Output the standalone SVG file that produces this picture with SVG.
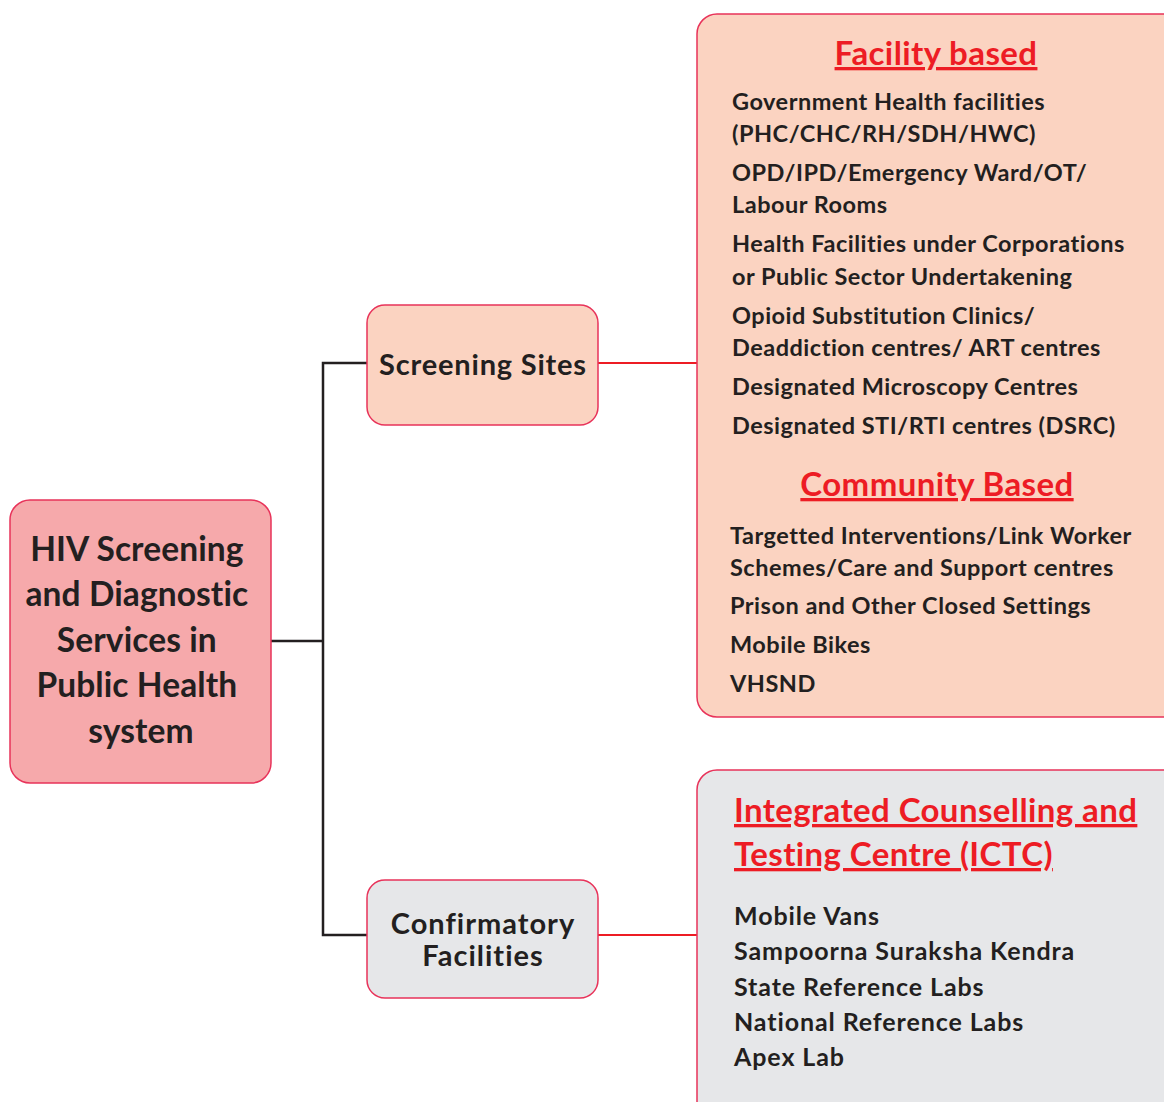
<svg xmlns="http://www.w3.org/2000/svg" width="1164" height="1102" viewBox="0 0 1164 1102">
<style>
.t{font-family:Lato,"Liberation Sans",sans-serif;font-weight:bold;fill:#231f20}
.h{font-family:Lato,"Liberation Sans",sans-serif;font-weight:bold;fill:#ed1c24;text-decoration:underline;font-size:33px;letter-spacing:0.4px}
.l1{font-size:23.5px;letter-spacing:0.5px}
.l2{font-size:25px;letter-spacing:0.9px}
.box{stroke:#e8335a;stroke-width:1.5}
</style>
<rect width="1164" height="1102" fill="#ffffff"/>
<g id="connectors" fill="none">
<polyline points="271,641 323,641" stroke="#231f20" stroke-width="2.5"/>
<polyline points="367,363 323,363 323,935 367,935" stroke="#231f20" stroke-width="2.5"/>
<line x1="598" y1="363" x2="697" y2="363" stroke="#ed1c24" stroke-width="2"/>
<line x1="598" y1="935" x2="697" y2="935" stroke="#ed1c24" stroke-width="2"/>
</g>
<g id="root">
<rect class="box" x="10" y="500" width="261" height="283" rx="20" fill="#f6a9ab"/>
<text class="t" font-size="33.5" letter-spacing="0.1" text-anchor="middle">
<tspan x="141" y="561">HIV Screening</tspan>
<tspan x="141" y="606">and Diagnostic</tspan>
<tspan x="141" y="652">Services in</tspan>
<tspan x="141" y="697">Public Health</tspan>
<tspan x="141" y="743">system</tspan>
</text>
</g>
<g id="screening">
<rect class="box" x="367" y="305" width="231" height="120" rx="18" fill="#fbd3c1"/>
<text class="t" font-size="29" letter-spacing="0.8" text-anchor="middle" x="483" y="375">Screening Sites</text>
</g>
<g id="confirmatory">
<rect class="box" x="367" y="880" width="231" height="118" rx="18" fill="#e6e7e9"/>
<text class="t" font-size="29" letter-spacing="1" text-anchor="middle"><tspan x="483" y="934">Confirmatory</tspan><tspan x="483" y="966">Facilities</tspan></text>
</g>
<g id="screening-sites-list">
<rect class="box" x="697" y="14" width="490" height="703" rx="20" fill="#fbd3c1"/>
<text class="h" text-anchor="middle" x="936" y="65">Facility based</text>
<text class="t l1">
<tspan x="732" y="110">Government Health facilities</tspan>
<tspan x="732" y="142">(PHC/CHC/RH/SDH/HWC)</tspan>
<tspan x="732" y="181">OPD/IPD/Emergency Ward/OT/</tspan>
<tspan x="732" y="213">Labour Rooms</tspan>
<tspan x="732" y="252">Health Facilities under Corporations</tspan>
<tspan x="732" y="285">or Public Sector Undertakening</tspan>
<tspan x="732" y="324">Opioid Substitution Clinics/</tspan>
<tspan x="732" y="356">Deaddiction centres/ ART centres</tspan>
<tspan x="732" y="395">Designated Microscopy Centres</tspan>
<tspan x="732" y="434">Designated STI/RTI centres (DSRC)</tspan>
</text>
<text class="h" text-anchor="middle" x="937" y="496">Community Based</text>
<text class="t l1">
<tspan x="730" y="544">Targetted Interventions/Link Worker</tspan>
<tspan x="730" y="576">Schemes/Care and Support centres</tspan>
<tspan x="730" y="614">Prison and Other Closed Settings</tspan>
<tspan x="730" y="653">Mobile Bikes</tspan>
<tspan x="730" y="692">VHSND</tspan>
</text>
</g>
<g id="confirmatory-list">
<rect class="box" x="697" y="770" width="490" height="360" rx="20" fill="#e6e7e9"/>
<text class="h"><tspan x="734" y="822">Integrated Counselling and</tspan><tspan x="734" y="866">Testing Centre (ICTC)</tspan></text>
<text class="t l2">
<tspan x="734" y="925">Mobile Vans</tspan>
<tspan x="734" y="960">Sampoorna Suraksha Kendra</tspan>
<tspan x="734" y="996">State Reference Labs</tspan>
<tspan x="734" y="1031">National Reference Labs</tspan>
<tspan x="734" y="1066">Apex Lab</tspan>
</text>
</g>
</svg>
